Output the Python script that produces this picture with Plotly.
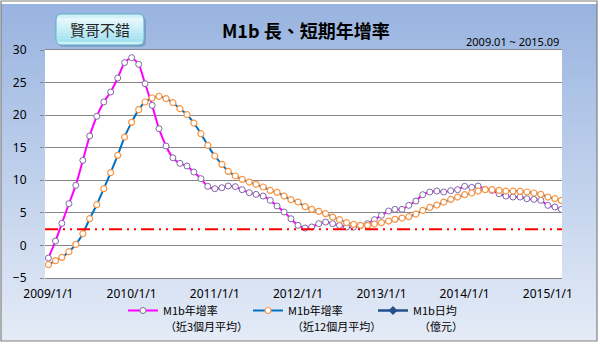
import plotly.graph_objects as go
import pandas as pd

# Monthly series, 2009-01 onward
months = pd.date_range("2009-01-01", periods=75, freq="MS").strftime("%Y-%m-%d").tolist()

short_term = [  # M1b 年增率（近3個月平均）
    -1.93, 0.68, 3.39, 6.41, 9.22, 13.06, 16.80, 19.82, 22.02, 23.55, 25.70, 28.06,
    28.82, 27.80, 24.83, 21.50, 17.92, 15.26, 13.45, 12.60, 12.19, 11.27, 10.25, 9.07,
    8.71, 8.86, 9.12, 9.02, 8.56, 8.10, 7.84, 7.58, 6.92, 6.05, 5.13, 4.10,
    3.08, 2.67, 2.83, 3.34, 3.59, 3.34, 3.08, 2.83, 2.83, 3.08, 3.34, 3.95,
    4.62, 5.28, 5.54, 5.54, 6.15, 6.82, 7.79, 8.20, 8.35, 8.20, 8.40, 8.56,
    9.07, 8.91, 9.12, 8.61, 8.45, 7.94, 7.58, 7.43, 7.43, 7.17, 7.07, 6.92,
    6.15, 5.90, 5.54,
]

long_term = [  # M1b 年增率（近12個月平均）
    -2.96, -2.34, -1.83, -0.96, 0.16, 1.80, 4.10, 6.25, 8.71, 11.17, 13.83, 16.64,
    18.89, 20.84, 22.02, 22.63, 22.89, 22.53, 21.91, 20.99, 20.07, 18.79, 17.15, 15.36,
    13.73, 12.45, 11.37, 10.66, 10.14, 9.73, 9.38, 8.97, 8.45, 8.15, 7.58, 7.02,
    6.66, 5.95, 5.54, 5.23, 4.87, 4.36, 3.95, 3.49, 3.23, 3.08, 3.08, 3.28,
    3.49, 3.74, 4.00, 4.20, 4.41, 4.82, 5.38, 5.84, 6.20, 6.66, 7.07, 7.43,
    7.79, 8.05, 8.35, 8.56, 8.56, 8.45, 8.35, 8.35, 8.30, 8.20, 8.05, 7.84,
    7.43, 7.17, 6.92,
]

threshold = 2.5

series_names = ["M1b年增率", "M1b年增率", "M1b日均"]
series_notes = ["（近3個月平均）", "（近12個月平均）", "（億元）"]

tick_vals = ["2009-01-01", "2010-01-01", "2011-01-01", "2012-01-01",
             "2013-01-01", "2014-01-01", "2015-01-01"]
tick_text = ["2009/1/1", "2010/1/1", "2011/1/1", "2012/1/1",
             "2013/1/1", "2014/1/1", "2015/1/1"]

W, H = 600, 345
ML, MR, MT, MB = 45, 38, 50, 67
PW, PH = W - ML - MR, H - MT - MB


def fx(p):
    return (p - ML) / PW


def fy(p):
    return (H - MB - p) / PH


def mix(c1, c2, t):
    a = [int(c1[i:i + 2], 16) for i in (1, 3, 5)]
    b = [int(c2[i:i + 2], 16) for i in (1, 3, 5)]
    return "#%02x%02x%02x" % tuple(round(a[k] + (b[k] - a[k]) * t) for k in range(3))


CJK = "Noto Sans CJK TC"

fig = go.Figure()

fig.add_trace(go.Scatter(
    x=months, y=short_term, mode="lines+markers", name=series_names[0],
    line=dict(color="#FF00FF", width=2, shape="spline", smoothing=0.6),
    marker=dict(symbol="circle", size=6, color="white",
                line=dict(color="#8068A8", width=1)),
))
fig.add_trace(go.Scatter(
    x=months, y=long_term, mode="lines+markers", name=series_names[1],
    line=dict(color="#0070C0", width=2, shape="spline", smoothing=0.6),
    marker=dict(symbol="circle", size=6, color="white",
                line=dict(color="#F79646", width=1.2)),
))
fig.add_trace(go.Scatter(
    x=[None], y=[None], mode="lines+markers", name=series_names[2],
    line=dict(color="#24508C", width=2.5),
    marker=dict(symbol="diamond", size=7, color="#24508C"),
))

shapes = []
# vertical gradient backdrop inside the frame
top_c, bot_c = "#98B3E0", "#E5ECF7"
y = 1
step = 3
while y < 341:
    y2 = min(y + step, 341)
    t = (y - 1) / 340
    shapes.append(dict(type="rect", xref="paper", yref="paper", layer="below",
                       x0=fx(1), x1=fx(597), y0=fy(y), y1=fy(y2),
                       fillcolor=mix(top_c, bot_c, t), line=dict(width=0)))
    y = y2
# frame
shapes.append(dict(type="rect", xref="paper", yref="paper", layer="below",
                   x0=fx(1), x1=fx(597), y0=fy(1), y1=fy(341),
                   line=dict(color="#7F7F7F", width=1.2), fillcolor="rgba(0,0,0,0)"))
# white plotting area
shapes.append(dict(type="rect", xref="paper", yref="paper", layer="below",
                   x0=0, x1=1, y0=0, y1=1, fillcolor="white", line=dict(width=0)))


def rounded(x0, y0, x1, y1, r):
    return (f"M {fx(x0 + r)} {fy(y0)} L {fx(x1 - r)} {fy(y0)} "
            f"Q {fx(x1)} {fy(y0)} {fx(x1)} {fy(y0 + r)} L {fx(x1)} {fy(y1 - r)} "
            f"Q {fx(x1)} {fy(y1)} {fx(x1 - r)} {fy(y1)} L {fx(x0 + r)} {fy(y1)} "
            f"Q {fx(x0)} {fy(y1)} {fx(x0)} {fy(y1 - r)} L {fx(x0)} {fy(y0 + r)} "
            f"Q {fx(x0)} {fy(y0)} {fx(x0 + r)} {fy(y0)} Z")


# label box: shadow, body, gradient bands, outline
bx0, by0, bx1, by1 = 56, 14, 144, 45
shapes.append(dict(type="path", xref="paper", yref="paper", layer="below",
                   path=rounded(bx0 + 2, by0 + 2, bx1 + 2, by1 + 2, 6),
                   fillcolor="rgba(60,90,130,0.30)", line=dict(width=0)))
shapes.append(dict(type="path", xref="paper", yref="paper", layer="below",
                   path=rounded(bx0, by0, bx1, by1, 6),
                   fillcolor="#CFF1F8", line=dict(width=0)))
for i in range(8):
    ya = by0 + 4 + i * 3
    yb = ya + 3
    shapes.append(dict(type="rect", xref="paper", yref="paper", layer="below",
                       x0=fx(bx0 + 1), x1=fx(bx1 - 1), y0=fy(ya), y1=fy(yb),
                       fillcolor=mix("#E6F8FC", "#A6E2F0", i / 7), line=dict(width=0)))
shapes.append(dict(type="path", xref="paper", yref="paper", layer="below",
                   path=rounded(bx0, by0, bx1, by1, 6),
                   fillcolor="rgba(0,0,0,0)", line=dict(color="#5AAFC6", width=1)))

fig.add_hline(y=threshold, line=dict(color="#FF0000", width=2,
                                     dash="13px,5px,2px,5px,2px,5px"))

annotations = [
    dict(text="賢哥不錯", x=fx(100), y=fy(30), xref="paper", yref="paper",
         showarrow=False, font=dict(family=CJK, size=15, color="#262626"),
         xanchor="center", yanchor="middle"),
    dict(text="<b>M1b 長、短期年增率</b>", x=fx(306), y=fy(30), xref="paper", yref="paper",
         showarrow=False, font=dict(family=CJK, size=18, color="#000000"),
         xanchor="center", yanchor="middle"),
    dict(text="2009.01 ~ 2015.09", x=fx(561), y=fy(42), xref="paper", yref="paper",
         showarrow=False, font=dict(family="Noto Sans", size=11, color="#000000"),
         xanchor="right", yanchor="middle"),
]
# second line of each legend entry
for note, px in zip(series_notes, [163, 290, 417]):
    annotations.append(dict(text=note, x=fx(px), y=fy(326), xref="paper", yref="paper",
                            showarrow=False, font=dict(family=CJK, size=11, color="#000000"),
                            xanchor="left", yanchor="middle"))

fig.update_layout(
    width=W, height=H,
    margin=dict(l=ML, r=MR, t=MT, b=MB, pad=0, autoexpand=False),
    paper_bgcolor="white", plot_bgcolor="rgba(0,0,0,0)",
    shapes=shapes, annotations=annotations,
    showlegend=True,
    legend=dict(orientation="h", x=fx(123), y=fy(296), xanchor="left", yanchor="top",
                font=dict(family=CJK, size=11, color="#000000"),
                bgcolor="rgba(0,0,0,0)",
                entrywidth=80, entrywidthmode="pixels", itemwidth=30),
    xaxis=dict(type="date", range=["2008-12-17", "2015-03-04"],
               tickvals=tick_vals, ticktext=tick_text, showgrid=False,
               showline=True, linecolor="#868686", linewidth=1, mirror=True,
               ticks="", ticklabelstandoff=5,
               tickfont=dict(family="Noto Sans", size=12, color="#000000")),
    yaxis=dict(range=[-5, 30], dtick=5, tick0=0, showgrid=True,
               gridcolor="#868686", gridwidth=1, zeroline=False,
               ticks="outside", ticklen=4, tickcolor="#868686",
               ticklabelstandoff=11,
               tickfont=dict(family="Noto Sans", size=12, color="#000000")),
)

fig.write_html("out.html")
